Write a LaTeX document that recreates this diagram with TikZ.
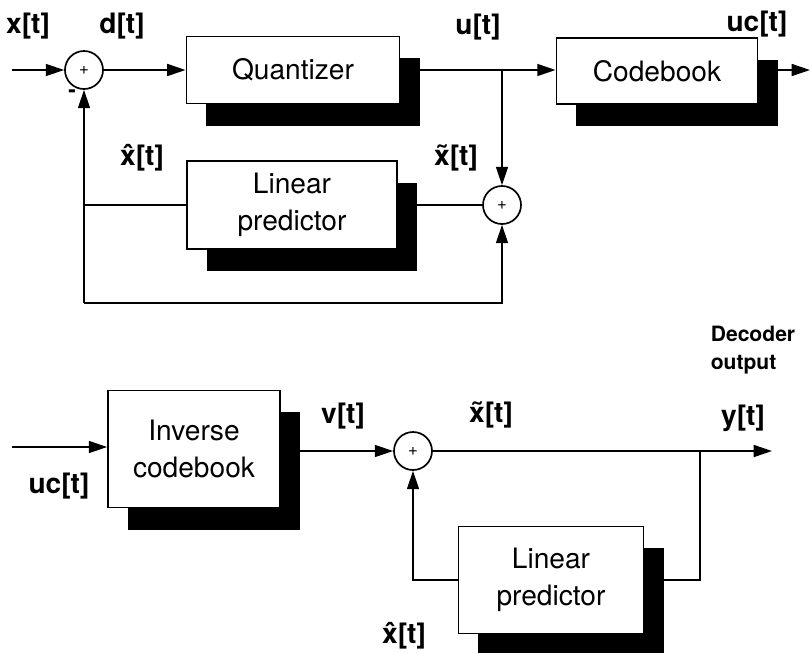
\documentclass[tikz,border=0pt]{standalone}
\usepackage{fontspec}
\setmainfont{TeX Gyre Heros}
\usetikzlibrary{arrows.meta, positioning, shadows}

\tikzset{
  block/.style={draw, line width=1.2pt, fill=white, align=center,
    font=\fontsize{20}{26}\selectfont,
    drop shadow={shadow xshift=0.5cm, shadow yshift=-0.55cm,
                 fill=black, opacity=1}},
  adder/.style={draw, circle, line width=1.2pt, fill=white,
    minimum size=0.95cm, inner sep=0pt, font=\fontsize{12}{12}\selectfont},
  sig/.style={font=\bfseries\fontsize{20}{22}\selectfont},
  arr/.style={-{Triangle[length=13pt,width=8.5pt]}},
}

\begin{document}
\begin{tikzpicture}[x=0.025cm, y=-0.025cm, line width=1.2pt]
  \useasboundingbox (0,0) rectangle (812,653);

  % encoder
  \node[adder] (sumA) at (84,70) {+};
  \node[block, minimum width=5.33cm, minimum height=1.68cm] (quant)
    at (293,70) {Quantizer};
  \node[block, minimum width=5.03cm, minimum height=1.65cm] (cbook)
    at (657,71) {Codebook};
  \node[block, minimum width=5.25cm, minimum height=2.2cm] (predA)
    at (292,205) {Linear\\predictor};
  \node[adder] (sumB) at (502,205) {+};

  \coordinate (xin) at (12,70);
  \coordinate (split) at (502,70);
  \coordinate (ucout) at (810,70);
  \coordinate (fbL) at (84,303);
  \coordinate (fbR) at (502,303);

  \draw[arr] (xin) -- (sumA);
  \draw[arr] (sumA) -- (quant);
  \draw[arr] (quant) -- (quant -| cbook.west);
  \draw[arr] (cbook.east |- ucout) -- (ucout);
  \draw[arr] (split) -- (sumB);
  \draw (predA) -- (sumB);
  \draw (predA.west) -- (predA.west -| fbL);
  \draw[arr] (fbL) -- (sumA);
  \draw[arr] (fbL) -- (fbR) -- (sumB);

  \node[sig] (lx) at (28,26) {x[t]};
  \node[sig] (ld) at (122,26) {d[t]};
  \node[sig] (lu) at (478,27) {u[t]};
  \node[sig] (luc) at (757,24) {uc[t]};
  \node[sig] (lxhatA) at (142,158) {\^{x}[t]};
  \node[sig] (lxtilA) at (456,158) {\~{x}[t]};
  \node[font=\bfseries\fontsize{16}{16}\selectfont] (minus) at (72,94) {-};

  % decoder
  \node[block, minimum width=4.3cm, minimum height=2.93cm] (icbook)
    at (194,449) {Inverse\\codebook};
  \node[adder] (sumC) at (413,451) {+};
  \node[block, minimum width=4.63cm, minimum height=2.68cm] (predB)
    at (551,580) {Linear\\predictor};

  \coordinate (ucin) at (12,447);
  \coordinate (yout) at (772,451);
  \coordinate (tap) at (700,451);

  \draw[arr] (ucin) -- (ucin -| icbook.west);
  \draw[arr] (icbook.east |- sumC) -- (sumC);
  \draw[arr] (sumC) -- (yout);
  \draw (tap) |- (predB.east);
  \draw[arr] (predB.west) -| (sumC);

  \node[sig] (lucin) at (59,486) {uc[t]};
  \node[sig] (lv) at (343,416) {v[t]};
  \node[sig] (lxtilB) at (491,415) {\~{x}[t]};
  \node[sig] (ly) at (743,418) {y[t]};
  \node[sig] (lxhatB) at (404,636) {\^{x}[t]};
  \node[font=\bfseries\fontsize{15}{20}\selectfont, align=left] (decout)
    at (753,350) {Decoder\\output};
\end{tikzpicture}
\end{document}
